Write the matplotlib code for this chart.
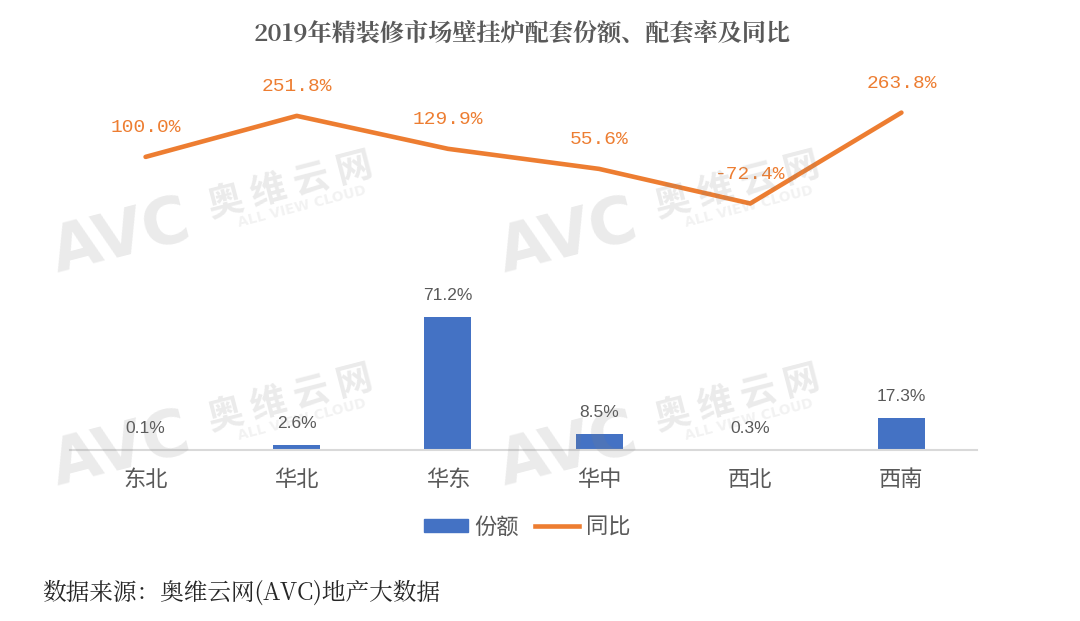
#!/usr/bin/env python3
import matplotlib
matplotlib.use("Agg")
import matplotlib.pyplot as plt
from matplotlib.lines import Line2D
from matplotlib.patches import Patch

plt.rcParams["font.family"] = ["Noto Sans CJK SC", "DejaVu Sans"]

regions = ["东北", "华北", "华东", "华中", "西北", "西南"]
share = [0.1, 2.6, 71.2, 8.5, 0.3, 17.3]
yoy = [100.0, 251.8, 129.9, 55.6, -72.4, 263.8]

BLUE = "#4472C4"
ORANGE = "#ED7D31"
GREY = "#595959"
SERIF = ["Noto Serif CJK SC", "Noto Sans CJK SC"]

fig = plt.figure(figsize=(10.8, 6.21), dpi=100)

ax_bar = fig.add_axes([70 / 1080, 1 - 450 / 621, 907 / 1080, 140 / 621])
ax_bar.patch.set_alpha(0)
ax_bar.bar(range(6), share, width=0.31, color=BLUE)
ax_bar.set_xlim(-0.5, 5.5)
ax_bar.set_ylim(0, 71.2 * 140 / 133)
for side in ["top", "left", "right"]:
    ax_bar.spines[side].set_visible(False)
ax_bar.spines["bottom"].set_color("#D9D9D9")
ax_bar.spines["bottom"].set_linewidth(1.5)
ax_bar.set_yticks([])
ax_bar.set_xticks(range(6))
ax_bar.set_xticklabels(regions, fontsize=16, color=GREY, fontweight="light")
ax_bar.tick_params(axis="x", length=0, pad=13)
for i, v in enumerate(share):
    ax_bar.annotate(f"{v}%", (i, v), xytext=(0, 10), textcoords="offset points",
                    ha="center", va="bottom", fontsize=12.5, color=GREY,
                    family=["Liberation Sans"])

ax_line = fig.add_axes([70 / 1080, 1 - 215 / 621, 907 / 1080, 110 / 621], sharex=ax_bar)
ax_line.plot(range(6), yoy, color=ORANGE, lw=3.3, solid_capstyle="round")
ax_line.set_ylim(-115, 292)
ax_line.axis("off")
for i, v in enumerate(yoy):
    ax_line.annotate(f"{v}%", (i, v), xytext=(0, 15), textcoords="offset points",
                     ha="center", va="bottom", fontsize=14, color=ORANGE,
                     family=["Liberation Mono"])

fig.text(522 / 1080, 1 - 34 / 621, "2019年精装修市场壁挂炉配套份额、配套率及同比",
         ha="center", va="center", fontsize=17.4, color=GREY,
         family=SERIF, fontweight="semibold")

handles = [Patch(color=BLUE, label="份额"), Line2D([], [], color=ORANGE, lw=3.3, label="同比")]
fig.legend(handles=handles, loc="center", bbox_to_anchor=(527 / 1080, 1 - 527 / 621),
           ncol=2, frameon=False, fontsize=16, labelcolor=GREY,
           handlelength=2.0, handleheight=0.5, columnspacing=0.7, handletextpad=0.3)

fig.text(42 / 1080, 1 - 593 / 621, "数据来源：奥维云网(AVC)地产大数据",
         ha="left", va="center", fontsize=17, color="#262626", family=SERIF)

# watermarks, drawn over the chart like the original overlay
for dx, dy in [(0, 0), (447, 0), (0, 213), (447, 213)]:
    fig.text((290 + dx) / 1080, 1 - (186 + dy) / 621, "奥 维 云 网", rotation=14.5, fontsize=26,
             fontweight="bold", color="#808080", alpha=0.16, ha="center", va="center", zorder=10)
    fig.text((302 + dx) / 1080, 1 - (207 + dy) / 621, "ALL VIEW CLOUD", rotation=14.5, fontsize=10,
             fontweight="bold", color="#808080", alpha=0.1, ha="center", va="center", zorder=10,
             family=["DejaVu Sans"])
    fig.text((121 + dx) / 1080, 1 - (238 + dy) / 621, "AVC", rotation=14.5, fontsize=46,
             fontweight="bold", color="#808080", alpha=0.16, ha="center", va="center", zorder=10,
             family=["DejaVu Sans"])

fig.savefig("out.png", dpi=100)
